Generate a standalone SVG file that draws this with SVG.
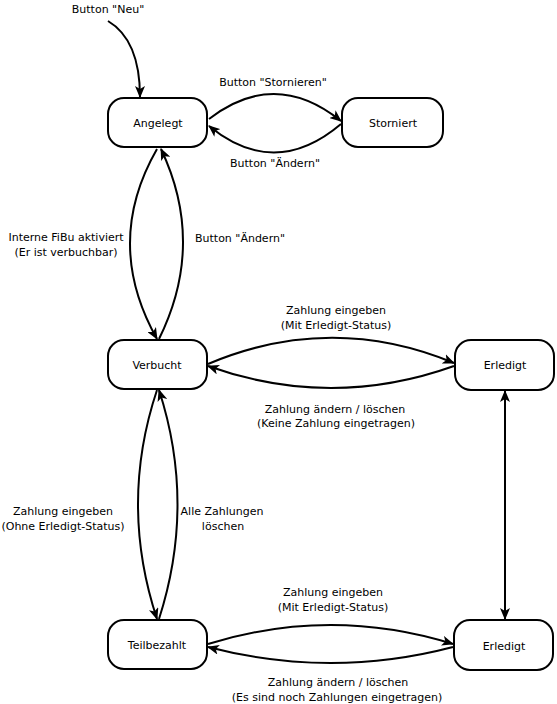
<svg xmlns="http://www.w3.org/2000/svg" width="557" height="704" viewBox="0 0 557 704">
<style>
.node rect{fill:#fff;stroke:#000;stroke-width:2}
text{font-family:"DejaVu Sans",Verdana,sans-serif;font-size:11px;fill:#000;text-anchor:middle}
.edge{fill:none;stroke:#000;stroke-width:2;marker-end:url(#arr)}
</style>
<defs>
<marker id="arr" viewBox="0 0 12 10" markerWidth="12" markerHeight="10" markerUnits="userSpaceOnUse" refX="11" refY="5" orient="auto-start-reverse">
<path d="M0,0 L12,5 L0,10 L3,5 z" fill="#000"/>
</marker>
</defs>
<g id="connectors">
<path class="edge" d="M108,21 Q140,40 140,97"/>
<path class="edge" d="M209,119 Q275,68 341,121"/>
<path class="edge" d="M341,124 Q275,180 209,126"/>
<path class="edge" d="M157,149 Q103,243 157,339"/>
<path class="edge" d="M159,339 Q206,244 161,149"/>
<path class="edge" d="M208,364 Q331,312 454,363"/>
<path class="edge" d="M454,366 Q331,410 208,366"/>
<path class="edge" d="M157,390 Q119,504 157,619"/>
<path class="edge" d="M159,619 Q196,504 159,390"/>
<path class="edge" style="marker-start:url(#arr)" d="M505,391 L505,619"/>
<path class="edge" d="M208,644 Q331,606 453,644"/>
<path class="edge" d="M453,647 Q331,679 208,647"/>
</g>
<g id="labels">
<text x="108" y="13">Button "Neu"</text>
<text x="273" y="86">Button "Stornieren"</text>
<text x="275" y="167">Button "Ändern"</text>
<text x="66" y="241">Interne FiBu aktiviert</text>
<text x="66" y="256">(Er ist verbuchbar)</text>
<text x="240" y="242">Button "Ändern"</text>
<text x="336" y="314">Zahlung eingeben</text>
<text x="336" y="329">(Mit Erledigt-Status)</text>
<text x="335" y="413">Zahlung ändern / löschen</text>
<text x="336" y="427">(Keine Zahlung eingetragen)</text>
<text x="63" y="515">Zahlung eingeben</text>
<text x="63" y="530">(Ohne Erledigt-Status)</text>
<text x="222" y="515">Alle Zahlungen</text>
<text x="223" y="530">löschen</text>
<text x="333" y="596">Zahlung eingeben</text>
<text x="333" y="611">(Mit Erledigt-Status)</text>
<text x="338" y="686">Zahlung ändern / löschen</text>
<text x="337" y="701">(Es sind noch Zahlungen eingetragen)</text>
</g>
<g id="angelegt" class="node"><rect x="108" y="98" width="99" height="49" rx="16"/><text x="158" y="127">Angelegt</text></g>
<g id="storniert" class="node"><rect x="342" y="98" width="101" height="49" rx="16"/><text x="393" y="127">Storniert</text></g>
<g id="verbucht" class="node"><rect x="108" y="340" width="99" height="49" rx="16"/><text x="157" y="369">Verbucht</text></g>
<g id="erledigt1" class="node"><rect x="455" y="340" width="99" height="50" rx="16"/><text x="505" y="369">Erledigt</text></g>
<g id="teilbezahlt" class="node"><rect x="108" y="620" width="99" height="49" rx="16"/><text x="157" y="649">Teilbezahlt</text></g>
<g id="erledigt2" class="node"><rect x="454" y="620" width="99" height="50" rx="16"/><text x="504" y="650">Erledigt</text></g>
</svg>
